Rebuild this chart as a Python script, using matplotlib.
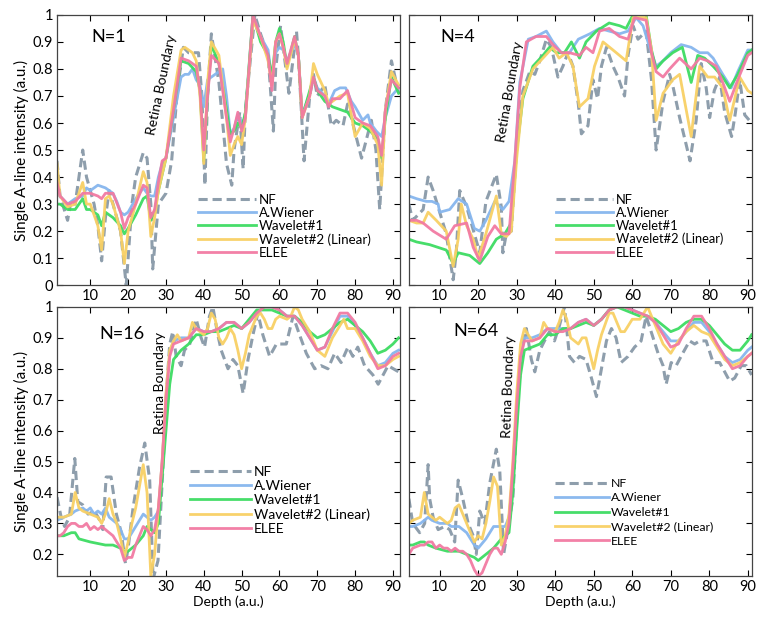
import matplotlib
matplotlib.use("Agg")
import matplotlib.pyplot as plt

# ---- data: (depth, intensity) pairs ----
# N=1
nf_1 = [(1.2,.46),(2,.33),(4,.24),(5,.32),(6,.30),(8,.50),(9,.40),(10,.35),(11,.30),(12,.22),(13,.09),(14,.25),(15,.35),(16,.30),(17,.25),(18,.20),(19.5,.0),(20,.10),(21,.30),(22,.40),(24,.49),(25,.47),(26,.30),(26.5,.06),(28,.30),(30,.34),(31.5,.46),(33,.72),(34.6,.88),(36,.86),(38.6,.86),(39.5,.70),(40.3,.37),(41,.70),(42,.93),(44,.75),(46,.45),(47.4,.37),(48,.50),(49.5,.64),(50.4,.43),(51,.65),(53.5,1.0),(55,.93),(57,.85),(58.4,.57),(59,.80),(60.3,.96),(61,.88),(62.5,.71),(64.5,.94),(65,.85),(66.5,.46),(68,.70),(69,.78),(70,.70),(72,.74),(73.7,.59),(75,.61),(76.8,.59),(78,.67),(79,.62),(81.7,.47),(84.3,.61),(85.5,.50),(86.5,.28),(88,.65),(89.6,.83),(91.5,.71)]
aw_1 = [(1.2,.38),(2,.33),(4,.30),(6,.32),(8,.33),(9,.36),(10,.35),(12,.37),(14,.36),(15,.35),(16,.34),(17,.31),(18,.27),(19,.26),(20,.27),(22,.32),(24,.36),(25,.34),(26,.33),(27,.33),(28,.40),(29,.45),(30,.47),(32,.62),(34,.77),(35,.78),(36,.78),(37,.80),(38,.76),(39,.74),(40,.66),(41,.76),(42,.77),(44,.79),(45,.80),(46,.70),(47,.56),(48,.58),(49,.63),(50,.60),(51,.62),(53,1.0),(55,.92),(57,.87),(58,.76),(59,.86),(60,.88),(61,.87),(62,.83),(64,.89),(65,.85),(66,.63),(68,.71),(69,.77),(70,.73),(72,.70),(73,.67),(74.6,.72),(76,.73),(77.5,.73),(79,.68),(80,.66),(82,.61),(83.4,.63),(84,.60),(85.6,.57),(87,.55),(88,.62),(89.6,.70),(91.5,.73)]
w1_1 = [(1.2,.30),(2,.30),(4,.28),(6,.28),(8,.32),(9,.28),(10,.28),(12,.26),(13,.22),(14,.27),(16,.25),(18,.22),(19,.19),(20,.21),(22,.26),(24,.32),(25,.33),(26,.24),(27,.27),(28,.35),(30,.47),(32,.65),(34,.83),(36,.82),(38,.79),(39,.72),(40,.46),(41,.70),(42,.89),(44,.82),(46,.65),(47,.56),(48,.57),(49,.60),(50,.58),(51,.64),(53,1.0),(55,.90),(57,.85),(58,.77),(59,.90),(60,.95),(61,.90),(62,.81),(64,.92),(65,.85),(66,.62),(68,.72),(69,.77),(70,.72),(72,.68),(74,.66),(76,.65),(78,.64),(80,.60),(82,.59),(84,.57),(86,.54),(87,.47),(88,.62),(89.6,.77),(91.5,.71)]
w2_1 = [(1.2,.45),(2,.33),(4,.29),(6,.30),(8,.38),(9,.30),(10,.30),(12,.22),(13,.13),(14,.32),(15,.33),(16,.30),(18,.20),(19,.08),(20,.20),(22,.30),(24,.42),(25,.38),(26,.18),(27,.25),(28,.35),(30,.47),(32,.70),(34,.87),(35,.88),(37,.86),(38,.83),(39,.70),(40,.45),(41,.75),(42,.90),(44,.85),(46,.62),(47,.48),(48,.52),(49,.55),(50,.52),(51,.62),(53,.98),(55,.92),(57,.83),(58,.74),(59,.90),(60,.93),(61,.88),(62,.80),(64,.91),(65,.85),(66,.62),(68,.70),(69,.82),(70,.78),(72,.72),(73,.67),(74,.68),(76,.70),(78,.71),(80,.55),(82,.60),(84,.58),(86,.52),(87,.37),(88,.65),(89.6,.79),(91.5,.74)]
el_1 = [(1.2,.38),(2,.33),(4,.30),(6,.31),(8,.34),(10,.34),(12,.33),(13,.32),(14,.34),(16,.34),(18,.27),(19,.21),(20,.25),(22,.30),(24,.37),(25,.36),(26,.25),(27,.28),(28,.38),(29,.46),(30,.47),(32,.65),(34,.84),(36,.83),(38,.81),(39,.72),(40,.50),(41,.70),(42,.85),(44,.82),(46,.62),(47,.53),(48,.58),(49,.64),(50,.57),(51,.62),(53,1.0),(55,.92),(57,.85),(58,.72),(59,.90),(60,.93),(61,.88),(62,.82),(64,.92),(65,.85),(66,.62),(68,.70),(69,.77),(70,.72),(72,.70),(73,.66),(74,.69),(76,.69),(78,.72),(80,.62),(82,.60),(84,.59),(86,.55),(87,.48),(88,.65),(89.6,.76),(91.5,.73)]

# N=4
nf_4 = [(2,.30),(3,.24),(5.7,.28),(7,.40),(8.3,.35),(10,.27),(11.7,.19),(13.5,.02),(14.3,.12),(15.2,.35),(17,.29),(19,.19),(20.4,.12),(22,.31),(24.7,.41),(26,.29),(26.4,.12),(27.3,.19),(28.6,.20),(30,.52),(31.6,.72),(33.4,.79),(34.7,.78),(36,.83),(37.7,.91),(39,.88),(40.7,.77),(42,.81),(43.3,.86),(44.6,.81),(46,.67),(46.8,.56),(48.5,.59),(49.8,.76),(51,.69),(52,.81),(53.3,.88),(55,.81),(56.3,.77),(58,.70),(58.9,.85),(60.2,.96),(61.5,.91),(63.6,.94),(65,.76),(66.2,.50),(68,.68),(69.7,.78),(70.5,.74),(72.3,.62),(74,.52),(75,.46),(76.6,.61),(77.9,.82),(79.2,.73),(80.1,.62),(81.3,.72),(82.7,.77),(84,.64),(85.8,.55),(86.8,.64),(87.9,.76),(89.2,.63),(91,.60)]
aw_4 = [(2,.33),(4,.32),(6.5,.31),(8,.31),(9.6,.30),(10,.27),(12.6,.28),(14.8,.32),(17,.30),(19,.21),(20.4,.20),(22,.24),(24.3,.31),(26.4,.28),(28,.31),(29.5,.46),(30.8,.75),(33,.91),(35,.92),(37.7,.94),(39.4,.90),(41.6,.86),(43.7,.86),(46,.91),(49,.93),(51.5,.95),(54,.94),(56.7,.93),(58.9,.94),(61,.99),(62.8,.96),(64.5,.88),(66.2,.81),(68,.83),(70,.86),(72.7,.89),(75.3,.88),(77.5,.86),(79.6,.86),(81,.84),(83.5,.78),(85.7,.73),(87.4,.79),(90,.87),(91,.87)]
w1_4 = [(2,.17),(4,.16),(7.4,.15),(11.7,.13),(13.5,.08),(14.8,.12),(17.8,.11),(20.4,.08),(22.5,.12),(24.7,.17),(26.9,.19),(28.6,.23),(30,.50),(31.6,.69),(34.2,.81),(36.8,.85),(38.5,.88),(40.3,.86),(42.4,.86),(44.2,.90),(46.3,.84),(48,.90),(50.7,.94),(54,.97),(56.7,.96),(58.4,.95),(60.2,1.0),(63.6,1.0),(65,.87),(66.2,.80),(68,.83),(70.5,.86),(73,.88),(75.3,.75),(77,.85),(78.8,.84),(81,.81),(83.5,.77),(85.3,.73),(87.4,.78),(90,.86),(91,.87)]
w2_4 = [(2,.24),(4,.23),(5.7,.23),(7,.27),(9.1,.24),(11.7,.20),(13.5,.07),(14.8,.17),(15.6,.30),(17,.22),(18.7,.17),(20,.10),(22,.19),(24.7,.33),(26,.19),(27.3,.18),(28.6,.20),(30,.47),(31.6,.70),(34.2,.80),(36.8,.84),(39.4,.88),(41,.84),(42.9,.86),(44.6,.81),(46.3,.66),(48.5,.69),(50.2,.81),(52.4,.90),(55,.87),(58.4,.83),(60.2,.99),(63.6,.99),(65,.87),(66.2,.61),(68,.71),(70.5,.76),(72.3,.78),(75.3,.55),(77.5,.81),(79.6,.77),(81.4,.77),(83.5,.73),(85.3,.61),(87.9,.77),(90,.72),(91,.71)]
el_4 = [(2,.24),(4,.24),(5.7,.23),(8.3,.20),(11.7,.17),(13.9,.22),(17,.23),(18.7,.14),(20.4,.09),(22.5,.18),(24.3,.22),(26,.19),(28,.19),(29.5,.46),(30.8,.73),(32.5,.90),(35,.92),(37.7,.92),(39.4,.89),(41.6,.86),(43.7,.86),(46.3,.85),(48,.88),(49.8,.86),(51.5,.94),(54,.95),(56.7,.92),(58.9,.91),(60.6,.99),(63.6,.98),(65,.86),(66.2,.79),(68,.77),(69.7,.80),(72.3,.84),(75.3,.80),(77.5,.84),(79.6,.83),(81.8,.81),(83.5,.75),(85.3,.68),(87.4,.76),(90,.85),(91,.86)]

# N=16
nf_16 = [(1.2,.385),(2.3,.32),(3.2,.29),(4.5,.32),(5.9,.51),(6.7,.37),(8,.36),(9.4,.33),(11.1,.34),(12.5,.31),(13.3,.28),(14.2,.45),(15.5,.45),(16.9,.33),(18.2,.27),(19.3,.17),(20,.22),(21.3,.35),(23,.48),(24.4,.56),(25.7,.44),(26.6,.12),(27.9,.18),(29.2,.48),(30,.70),(31,.88),(31.8,.92),(32.7,.84),(34,.81),(34.9,.86),(36.3,.88),(38,.96),(39.3,.90),(40.2,.87),(41.5,.97),(42.4,1.0),(43.7,.91),(44.6,.86),(46.4,.80),(47.7,.83),(49,.81),(50.4,.72),(51.7,.83),(53,.91),(54.3,.98),(55.6,.91),(57.4,.84),(59.2,.88),(61.8,.88),(63.6,.97),(65.3,.91),(67.1,.85),(69.3,.80),(71,.81),(72.8,.80),(74.6,.85),(76.3,.82),(78.1,.87),(79.4,.84),(80.7,.87),(82.5,.81),(84.7,.78),(86.1,.75),(88.7,.81),(91.5,.79)]
aw_16 = [(1.2,.31),(3,.32),(5,.33),(6,.34),(8,.35),(9,.34),(10,.35),(11,.33),(12,.34),(13,.33),(14,.35),(15,.32),(16,.31),(17,.30),(18,.28),(19,.25),(20,.25),(21,.27),(22,.29),(23,.31),(24,.33),(25,.32),(26,.31),(27,.32),(28,.34),(29,.50),(30,.70),(31,.85),(32,.89),(34,.90),(36,.90),(38,.93),(40,.92),(42,.92),(44,.93),(46,.95),(48,.95),(50,.93),(52,.95),(54,.98),(56,1.0),(58,1.0),(60,.99),(62,.97),(64,.97),(66,.94),(68,.90),(70,.86),(72,.87),(74,.92),(76,.97),(78,.97),(80,.94),(82,.90),(84,.85),(86,.81),(88,.82),(90,.85),(91.5,.86)]
w1_16 = [(1.2,.26),(3,.26),(5,.27),(6,.27),(7,.25),(10,.24),(14,.23),(16,.23),(18,.22),(19,.21),(20,.21),(22,.23),(24,.26),(25,.29),(27,.27),(28,.30),(29,.45),(30,.60),(31,.75),(32,.83),(34,.86),(36,.88),(38,.91),(40,.91),(42,.92),(44,.92),(46,.93),(48,.94),(50,.93),(52,.96),(54,.99),(56,.99),(58,.99),(60,.98),(62,.97),(64,.97),(66,.95),(68,.92),(70,.90),(72,.91),(74,.93),(76,.95),(78,.96),(80,.94),(82,.92),(84,.89),(86,.85),(88,.86),(90,.88),(91.5,.90)]
w2_16 = [(1.2,.32),(3,.32),(5,.33),(6,.40),(7,.35),(8,.34),(10,.33),(12,.32),(13,.30),(14,.33),(15,.38),(16,.33),(17,.30),(18,.25),(19,.19),(20,.24),(21,.30),(22,.35),(23,.42),(24,.49),(25,.40),(26,.13),(27,.20),(28,.35),(29,.50),(30,.72),(31,.86),(32,.89),(33,.91),(34,.89),(36,.90),(37,.95),(38,.93),(40,.91),(41,.93),(42,.98),(43,.96),(44,.90),(45,.88),(46,.90),(47,.93),(48,.91),(49,.86),(50,.80),(51,.85),(52,.91),(54,.97),(55,.98),(56,.96),(57,.93),(58,.93),(59,.96),(60,.97),(62,.96),(63,.97),(64,1.0),(65,.99),(66,.96),(68,.92),(70,.86),(72,.84),(74,.90),(76,.94),(77,.96),(78,.93),(80,.93),(82,.89),(84,.84),(86,.81),(88,.81),(90,.83),(91.5,.84)]
el_16 = [(1.2,.26),(2,.26),(3,.27),(4,.29),(5,.30),(6,.30),(7,.29),(8,.29),(9,.30),(10,.28),(11,.29),(12,.28),(13,.29),(14,.28),(15,.27),(16,.26),(18,.22),(19,.18),(20,.19),(21,.19),(22,.23),(23,.26),(24,.29),(25,.28),(26,.26),(27,.28),(28,.35),(29,.50),(30,.70),(31,.84),(32,.88),(34,.89),(36,.90),(38,.93),(40,.92),(42,.92),(44,.93),(46,.95),(48,.95),(50,.93),(52,.95),(54,.98),(56,1.0),(58,1.0),(60,.99),(62,.97),(64,.97),(66,.94),(68,.90),(70,.86),(72,.87),(74,.93),(76,.98),(78,.98),(80,.95),(82,.90),(84,.85),(86,.80),(88,.81),(90,.84),(91.5,.85)]

# N=64
nf_64 = [(2,.38),(3,.30),(4.8,.27),(6.1,.30),(7,.49),(7.4,.38),(8.3,.32),(9.6,.28),(11.3,.29),(12.6,.28),(13.9,.24),(14.8,.44),(16,.38),(17.4,.30),(18.7,.26),(19.5,.20),(20.4,.34),(21.7,.30),(23,.43),(24.7,.54),(25.6,.47),(26.6,.20),(27.7,.28),(29,.38),(30.3,.71),(31.6,.88),(32.5,.93),(33.8,.83),(34.7,.79),(36,.86),(37.2,.89),(38.5,.92),(39.8,.89),(41.1,.94),(42.4,1.0),(43.7,.84),(45,.82),(46.3,.84),(48,.83),(49.4,.77),(50.7,.71),(52,.80),(53.3,.89),(54.6,.93),(55.8,.90),(57.1,.82),(58.9,.84),(60.6,.87),(62.3,.89),(63.6,.97),(64.9,.92),(66.7,.85),(68,.81),(68.8,.75),(70.1,.82),(71.4,.81),(73.1,.85),(74.9,.89),(76.2,.88),(77.5,.89),(79.2,.89),(81,.82),(82.7,.82),(84,.79),(85.3,.76),(86.6,.77),(88.3,.81),(89.6,.81),(91,.78)]
aw_64 = [(2,.29),(3,.29),(5,.30),(7,.32),(8,.31),(10,.30),(12,.30),(13,.29),(15,.29),(17,.27),(19,.23),(20,.22),(22,.25),(24,.29),(26,.29),(27,.29),(28,.32),(29,.45),(30,.65),(31,.83),(32,.90),(34,.90),(36,.91),(38,.93),(40,.93),(42,.93),(44,.93),(46,.95),(48,.96),(50,.94),(52,.96),(54,.99),(56,1.0),(58,1.0),(60,.99),(62,.98),(64,.97),(66,.95),(68,.92),(70,.89),(72,.89),(74,.92),(76,.95),(78,.95),(80,.92),(82,.88),(84,.84),(86,.82),(88,.83),(90,.86),(91,.87)]
w1_64 = [(2,.23),(3,.23),(5,.24),(6,.24),(7,.23),(9,.22),(12,.21),(15,.21),(17,.20),(19,.19),(20,.18),(22,.20),(24,.22),(26,.25),(28,.27),(29,.40),(30,.60),(31,.78),(32,.86),(34,.87),(36,.88),(38,.91),(40,.91),(42,.93),(44,.93),(46,.94),(48,.95),(50,.94),(52,.96),(54,.99),(56,1.0),(58,.99),(60,.98),(62,.97),(64,.97),(66,.96),(68,.94),(70,.92),(72,.93),(74,.95),(76,.96),(78,.96),(80,.94),(82,.91),(84,.88),(86,.86),(88,.86),(90,.89),(91,.91)]
w2_64 = [(2,.30),(3,.31),(5,.32),(6,.40),(7,.33),(8,.32),(9,.31),(10,.32),(11,.31),(12,.30),(13,.31),(14,.35),(15,.36),(16,.33),(17,.30),(18,.27),(19,.24),(20,.26),(21,.25),(22,.30),(23,.37),(24,.45),(25,.42),(26,.23),(27,.26),(28,.33),(29,.50),(30,.72),(31,.88),(32,.93),(33,.91),(34,.89),(36,.90),(37,.95),(38,.93),(40,.92),(41,.95),(42,.99),(43,.96),(44,.90),(46,.88),(47,.90),(48,.90),(49,.85),(50,.80),(51,.86),(52,.91),(54,.98),(55,.98),(56,.95),(57,.92),(58,.92),(60,.96),(62,.96),(63,.98),(64,1.0),(65,.97),(66,.94),(68,.88),(70,.85),(72,.89),(74,.92),(76,.94),(77,.93),(78,.92),(80,.91),(82,.87),(84,.83),(86,.81),(88,.82),(90,.84),(91,.85)]
el_64 = [(2,.20),(3,.22),(5,.23),(6,.23),(7,.24),(8,.24),(9,.22),(10,.23),(11,.22),(12,.22),(13,.21),(14,.22),(15,.21),(16,.21),(17,.20),(18,.18),(19,.15),(20,.13),(21,.14),(22,.17),(23,.20),(24,.22),(25,.22),(26,.20),(27,.24),(28,.30),(29,.48),(30,.68),(31,.84),(32,.89),(34,.89),(36,.90),(38,.93),(40,.92),(42,.92),(44,.93),(46,.95),(48,.96),(50,.94),(52,.96),(54,.99),(56,1.0),(58,1.0),(60,.99),(62,.98),(64,.97),(66,.95),(68,.91),(70,.87),(72,.88),(74,.93),(76,.97),(78,.97),(80,.93),(82,.88),(84,.84),(86,.80),(88,.81),(90,.84),(91,.85)]

labels = ["NF", "A.Wiener", "Wavelet#1", "Wavelet#2 (Linear)", "ELEE"]
panel_names = ["N=1", "N=4", "N=16", "N=64"]
panel_series = [
    [nf_1, aw_1, w1_1, w2_1, el_1],
    [nf_4, aw_4, w1_4, w2_4, el_4],
    [nf_16, aw_16, w1_16, w2_16, el_16],
    [nf_64, aw_64, w1_64, w2_64, el_64],
]

colors = ["#8e9eac", "#86b6ee", "#3ddc62", "#f8d064", "#f27aa2"]

plt.rcParams["font.family"] = ["Lato", "DejaVu Sans"]

fig = plt.figure(figsize=(7.6, 6.2), dpi=100)
axes_pos = [
    [0.075, 0.540, 0.451, 0.436],
    [0.538, 0.540, 0.451, 0.436],
    [0.075, 0.071, 0.451, 0.434],
    [0.538, 0.071, 0.451, 0.434],
]
xlims = [(1.2, 91.8), (2, 91), (1.2, 91.8), (2, 91)]
ylims = [(0, 1), (0, 1), (0.13, 1), (0.13, 1)]
name_pos = [(0.10, 0.92), (0.093, 0.92), (0.125, 0.90), (0.13, 0.91)]
rb_pos = [(29, 0.74, 78), (28.2, 0.715, 80), (28.5, 0.755, 90), (27.9, 0.74, 88)]
leg_anchor = [(0.41, 0.338), (0.43, 0.338), (0.388, 0.41), (0.426, 0.364)]
leg_font = [9.6, 9.3, 10.0, 8.8]
leg_space = [0.08, 0.08, 0.16, 0.28]

for i in range(4):
    ax = fig.add_axes(axes_pos[i])
    for j, s in enumerate(panel_series[i]):
        xs = [p[0] for p in s]
        ys = [p[1] for p in s]
        if j == 0:
            ax.plot(xs, ys, color=colors[j], lw=2.2, dashes=(3, 1.6), label=labels[j])
        else:
            ax.plot(xs, ys, color=colors[j], lw=2.0, label=labels[j], alpha=0.95)
    ax.set_xlim(*xlims[i])
    ax.set_ylim(*ylims[i])
    ax.set_xticks([10, 20, 30, 40, 50, 60, 70, 80, 90])
    if i < 2:
        ax.set_yticks([0, 0.1, 0.2, 0.3, 0.4, 0.5, 0.6, 0.7, 0.8, 0.9, 1])
        ax.set_yticklabels(["0", "0.1", "0.2", "0.3", "0.4", "0.5", "0.6", "0.7", "0.8", "0.9", "1"])
    else:
        ax.set_yticks([0.2, 0.3, 0.4, 0.5, 0.6, 0.7, 0.8, 0.9, 1])
        ax.set_yticklabels(["0.2", "0.3", "0.4", "0.5", "0.6", "0.7", "0.8", "0.9", "1"])
        ax.set_xlabel("Depth (a.u.)", fontsize=10, labelpad=1)
    ax.tick_params(direction="in", top=True, right=True, length=4, width=0.8,
                   labelsize=10.5, pad=3)
    if i % 2 == 1:
        ax.tick_params(labelleft=False)
    else:
        ax.set_ylabel("Single A-line intensity (a.u.)", fontsize=11, labelpad=2)
    for sp in ax.spines.values():
        sp.set_linewidth(0.9)
        sp.set_color("#444444")
    ax.text(name_pos[i][0], name_pos[i][1], panel_names[i], transform=ax.transAxes,
            fontsize=13, ha="left", va="center")
    ax.text(rb_pos[i][0], rb_pos[i][1], "Retina Boundary", rotation=rb_pos[i][2],
            fontsize=10, ha="center", va="center")
    leg = ax.legend(loc="upper left", bbox_to_anchor=leg_anchor[i], frameon=False,
                    fontsize=leg_font[i], handlelength=4.4, handletextpad=0.2,
                    labelspacing=leg_space[i], borderpad=0, borderaxespad=0)

fig.savefig("out.png", dpi=100)
